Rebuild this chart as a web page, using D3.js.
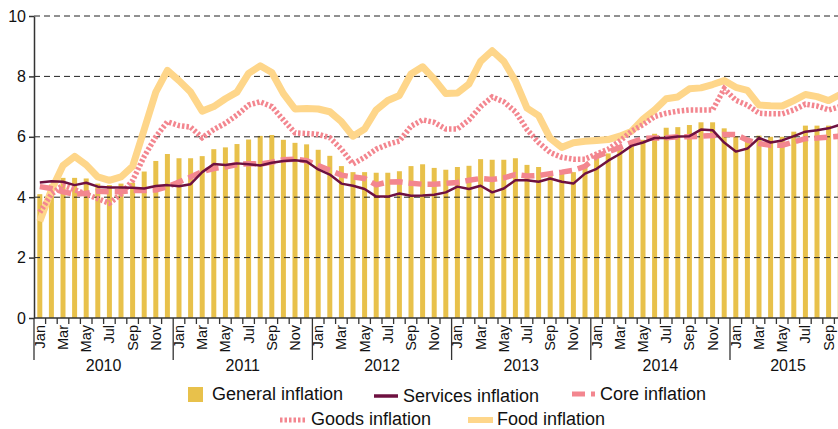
<!DOCTYPE html>
<html>
<head>
<meta charset="utf-8">
<script src="https://cdn.jsdelivr.net/npm/d3@7"></script>
<style>
  body { margin: 0; background: #fff; }
  svg text { font-family: "Liberation Sans", Arial, sans-serif; fill: #111; }
</style>
</head>
<body>
<div class="contents"></div>
<script>
var width = 838;
var height = 429;

var years = ["2010", "2011", "2012", "2013", "2014", "2015"];
var monthNames = ["Jan","Feb","Mar","Apr","May","Jun","Jul","Aug","Sep","Oct","Nov","Dec"];
var yTicks = [0, 2, 4, 6, 8, 10];

// Jan 2010 .. Oct 2015
var generalInfl = [4.1, 4.42, 4.64, 4.64, 4.62, 4.45, 4.4, 4.45, 4.48, 4.85, 5.2, 5.43,
  5.29, 5.29, 5.36, 5.59, 5.65, 5.76, 5.91, 6.03, 6.06, 5.9, 5.8, 5.75,
  5.57, 5.37, 5.03, 4.83, 4.83, 4.81, 4.81, 4.86, 5.03, 5.09, 4.97, 4.91,
  5.0, 5.04, 5.26, 5.24, 5.24, 5.29, 5.07, 5.0, 4.83, 4.78, 4.83, 5.0,
  5.35, 5.45, 5.65, 5.75, 5.9, 6.1, 6.3, 6.32, 6.39, 6.48, 6.48, 6.28,
  6.02, 5.9, 6.04, 6.0, 6.0, 6.17, 6.37, 6.37, 6.37, 6.35];

var servicesInfl = [4.49, 4.53, 4.51, 4.4, 4.48, 4.35, 4.32, 4.32, 4.31, 4.29, 4.37, 4.4,
  4.36, 4.43, 4.83, 5.1, 5.07, 5.12, 5.09, 5.05, 5.14, 5.2, 5.22, 5.18,
  4.92, 4.75, 4.45, 4.38, 4.27, 4.02, 4.02, 4.12, 4.05, 4.06, 4.08, 4.16,
  4.35, 4.27, 4.38, 4.16, 4.29, 4.56, 4.56, 4.51, 4.62, 4.51, 4.45, 4.78,
  4.94, 5.21, 5.43, 5.7, 5.81, 5.96, 5.96, 6.01, 6.02, 6.24, 6.22, 5.81,
  5.51, 5.61, 5.96, 5.81, 5.88, 6.02, 6.17, 6.22, 6.28, 6.4];

var coreInfl = [4.35, 4.29, 4.18, 4.1, 4.13, 4.2, 4.18, 4.18, 4.22, 4.22, 4.24, 4.35,
  4.5, 4.67, 4.85, 4.95, 5.0, 5.08, 5.11, 5.1, 5.16, 5.24, 5.26, 5.21,
  5.05, 4.89, 4.73, 4.67, 4.62, 4.41, 4.5, 4.51, 4.46, 4.43, 4.43, 4.46,
  4.49, 4.56, 4.62, 4.59, 4.64, 4.75, 4.7, 4.72, 4.78, 4.83, 4.89, 5.02,
  5.35, 5.5, 5.65, 5.81, 5.95, 5.96, 5.97, 6.0, 6.0, 6.02, 6.04, 6.08,
  6.08, 5.89, 5.78, 5.72, 5.72, 5.83, 5.94, 5.96, 5.99, 6.02];

var goodsInfl = [3.5, 4.1, 4.4, 4.25, 4.1, 3.95, 3.8, 4.1, 4.55, 5.35, 6.0, 6.5,
  6.37, 6.32, 5.97, 6.24, 6.45, 6.72, 7.05, 7.16, 7.0, 6.56, 6.13, 6.11,
  6.08, 5.97, 5.59, 5.1, 5.32, 5.59, 5.75, 5.86, 6.35, 6.56, 6.48, 6.26,
  6.26, 6.56, 7.0, 7.32, 7.16, 6.83, 6.24, 5.81, 5.48, 5.32, 5.26, 5.26,
  5.43, 5.59, 5.86, 6.18, 6.4, 6.67, 6.78, 6.85, 6.89, 6.89, 6.89, 7.59,
  7.21, 7.05, 6.78, 6.76, 6.76, 6.89, 7.08, 7.02, 6.89, 7.0];

var foodInfl = [3.2, 4.24, 5.05, 5.35, 5.07, 4.67, 4.56, 4.67, 5.02, 6.24, 7.48, 8.2,
  7.86, 7.48, 6.85, 7.0, 7.26, 7.48, 8.1, 8.35, 8.13, 7.43, 6.92, 6.94,
  6.92, 6.83, 6.5, 6.02, 6.26, 6.89, 7.2, 7.37, 8.08, 8.32, 7.91, 7.43,
  7.45, 7.75, 8.5, 8.85, 8.5, 7.85, 6.95, 6.7, 5.95, 5.65, 5.8, 5.85,
  5.88, 5.91, 6.02, 6.18, 6.58, 6.89, 7.26, 7.32, 7.59, 7.62, 7.73, 7.86,
  7.64, 7.54, 7.05, 7.03, 7.02, 7.2, 7.4, 7.33, 7.2, 7.4];

// month keys like "2010-Jan"
var months = [];
years.forEach(function(y){
  monthNames.forEach(function(m){
    if (months.length < generalInfl.length) months.push(y + "-" + m);
  });
});

var plotLeft = 34, plotTop = 16, plotBottom = 318;
var monthW = 11.6;

var x = d3.scaleBand().domain(months).range([plotLeft, plotLeft + monthW * months.length]).padding(0);
var y = d3.scaleLinear().domain([0, 10]).range([plotBottom, plotTop]);
var cx = function(i){ return x(months[i]) + x.bandwidth() / 2; };

var svg = d3.select(".contents").append("svg")
  .attr("width", width)
  .attr("height", height);

// bars
var barW = 5;
svg.append("g").selectAll("rect")
  .data(generalInfl)
  .enter()
  .append("rect")
  .attr("x", function(d, i){ return cx(i) - barW / 2; })
  .attr("y", function(d){ return y(d); })
  .attr("width", barW)
  .attr("height", function(d){ return y(0) - y(d); })
  .style("fill", "#e8c14b");

// grid lines
svg.append("g").selectAll("line")
  .data(yTicks.filter(function(d){ return d > 0; }))
  .enter()
  .append("line")
  .attr("x1", plotLeft).attr("x2", width)
  .attr("y1", function(d){ return y(d); })
  .attr("y2", function(d){ return y(d); })
  .style("stroke", "#222")
  .style("stroke-width", 1)
  .style("stroke-dasharray", "6,4");

// series lines
var line = d3.line()
  .x(function(d, i){ return cx(i); })
  .y(function(d){ return y(d); });

svg.append("path").datum(foodInfl).attr("d", line)
  .style("fill", "none").style("stroke", "#fed68a").style("stroke-width", 7)
  .style("stroke-linejoin", "round");
svg.append("path").datum(goodsInfl).attr("d", line)
  .style("fill", "none").style("stroke", "#f3868f").style("stroke-width", 5.5)
  .style("stroke-dasharray", "2.5,2");
svg.append("path").datum(coreInfl).attr("d", line)
  .style("fill", "none").style("stroke", "#f3868f").style("stroke-width", 5.5)
  .style("stroke-dasharray", "13,6");
svg.append("path").datum(servicesInfl).attr("d", line)
  .style("fill", "none").style("stroke", "#6e1040").style("stroke-width", 2.5)
  .style("stroke-linejoin", "round");

// y axis
var yAxis = svg.append("g")
  .attr("transform", "translate(" + plotLeft + ",0)")
  .call(d3.axisLeft(y).tickValues(yTicks).tickSize(5).tickPadding(3).tickSizeOuter(0));
yAxis.select(".domain").style("stroke", "#333").style("stroke-width", 1.5);
yAxis.selectAll(".tick line").style("stroke", "#333").style("stroke-width", 1.5);
yAxis.selectAll("text").style("font-size", "16px").style("font-family", "Liberation Sans, Arial, sans-serif");

// x axis with month labels
var xAxis = svg.append("g")
  .attr("transform", "translate(0," + plotBottom + ")")
  .call(d3.axisBottom(x)
    .tickSize(0)
    .tickSizeOuter(0)
    .tickFormat(function(d, i){ return i % 2 === 0 ? d.split("-")[1] : ""; }));
xAxis.select(".domain").attr("d", "M" + plotLeft + ",0H" + width).style("stroke", "#333").style("stroke-width", 1.5);
xAxis.selectAll("text")
  .attr("transform", "rotate(-90)")
  .attr("x", -7)
  .attr("y", 0)
  .attr("dy", "0.35em")
  .style("text-anchor", "end")
  .style("font-size", "14.5px")
  .style("font-family", "Liberation Sans, Arial, sans-serif");

// month ticks at band edges
svg.append("g").selectAll("line")
  .data(months)
  .enter()
  .append("line")
  .attr("x1", function(d){ return x(d); })
  .attr("x2", function(d){ return x(d); })
  .attr("y1", plotBottom)
  .attr("y2", function(d){ return d.indexOf("Jan") > 0 ? 360 : plotBottom + 6; })
  .style("stroke", "#333")
  .style("stroke-width", 1.3);

// year labels, centred on the year's span
svg.append("g").selectAll("text")
  .data(years)
  .enter()
  .append("text")
  .attr("x", function(yr){
    var ms = months.filter(function(m){ return m.indexOf(yr) === 0; });
    return (x(ms[0]) + x(ms[ms.length - 1]) + x.bandwidth()) / 2;
  })
  .attr("y", 371)
  .attr("text-anchor", "middle")
  .style("font-size", "16px")
  .text(function(d){ return d; });

// legend
var lg = svg.append("g").style("font-size", "18px");
lg.append("rect").attr("x", 188).attr("y", 387).attr("width", 15).attr("height", 15).style("fill", "#e8c14b");
lg.append("text").attr("x", 212).attr("y", 400).text("General inflation");
lg.append("line").attr("x1", 374).attr("x2", 398).attr("y1", 396).attr("y2", 396)
  .style("stroke", "#6e1040").style("stroke-width", 3.5);
lg.append("text").attr("x", 403).attr("y", 402).text("Services inflation");
lg.append("line").attr("x1", 572).attr("x2", 595).attr("y1", 394).attr("y2", 394)
  .style("stroke", "#f3868f").style("stroke-width", 5).style("stroke-dasharray", "13,6");
lg.append("text").attr("x", 600).attr("y", 400).text("Core inflation");
lg.append("line").attr("x1", 280).attr("x2", 305).attr("y1", 420).attr("y2", 420)
  .style("stroke", "#f3868f").style("stroke-width", 5).style("stroke-dasharray", "2.5,2");
lg.append("text").attr("x", 311).attr("y", 425).text("Goods inflation");
lg.append("line").attr("x1", 468).attr("x2", 493).attr("y1", 420).attr("y2", 420)
  .style("stroke", "#fed68a").style("stroke-width", 6);
lg.append("text").attr("x", 497).attr("y", 425).text("Food inflation");
</script>
</body>
</html>
